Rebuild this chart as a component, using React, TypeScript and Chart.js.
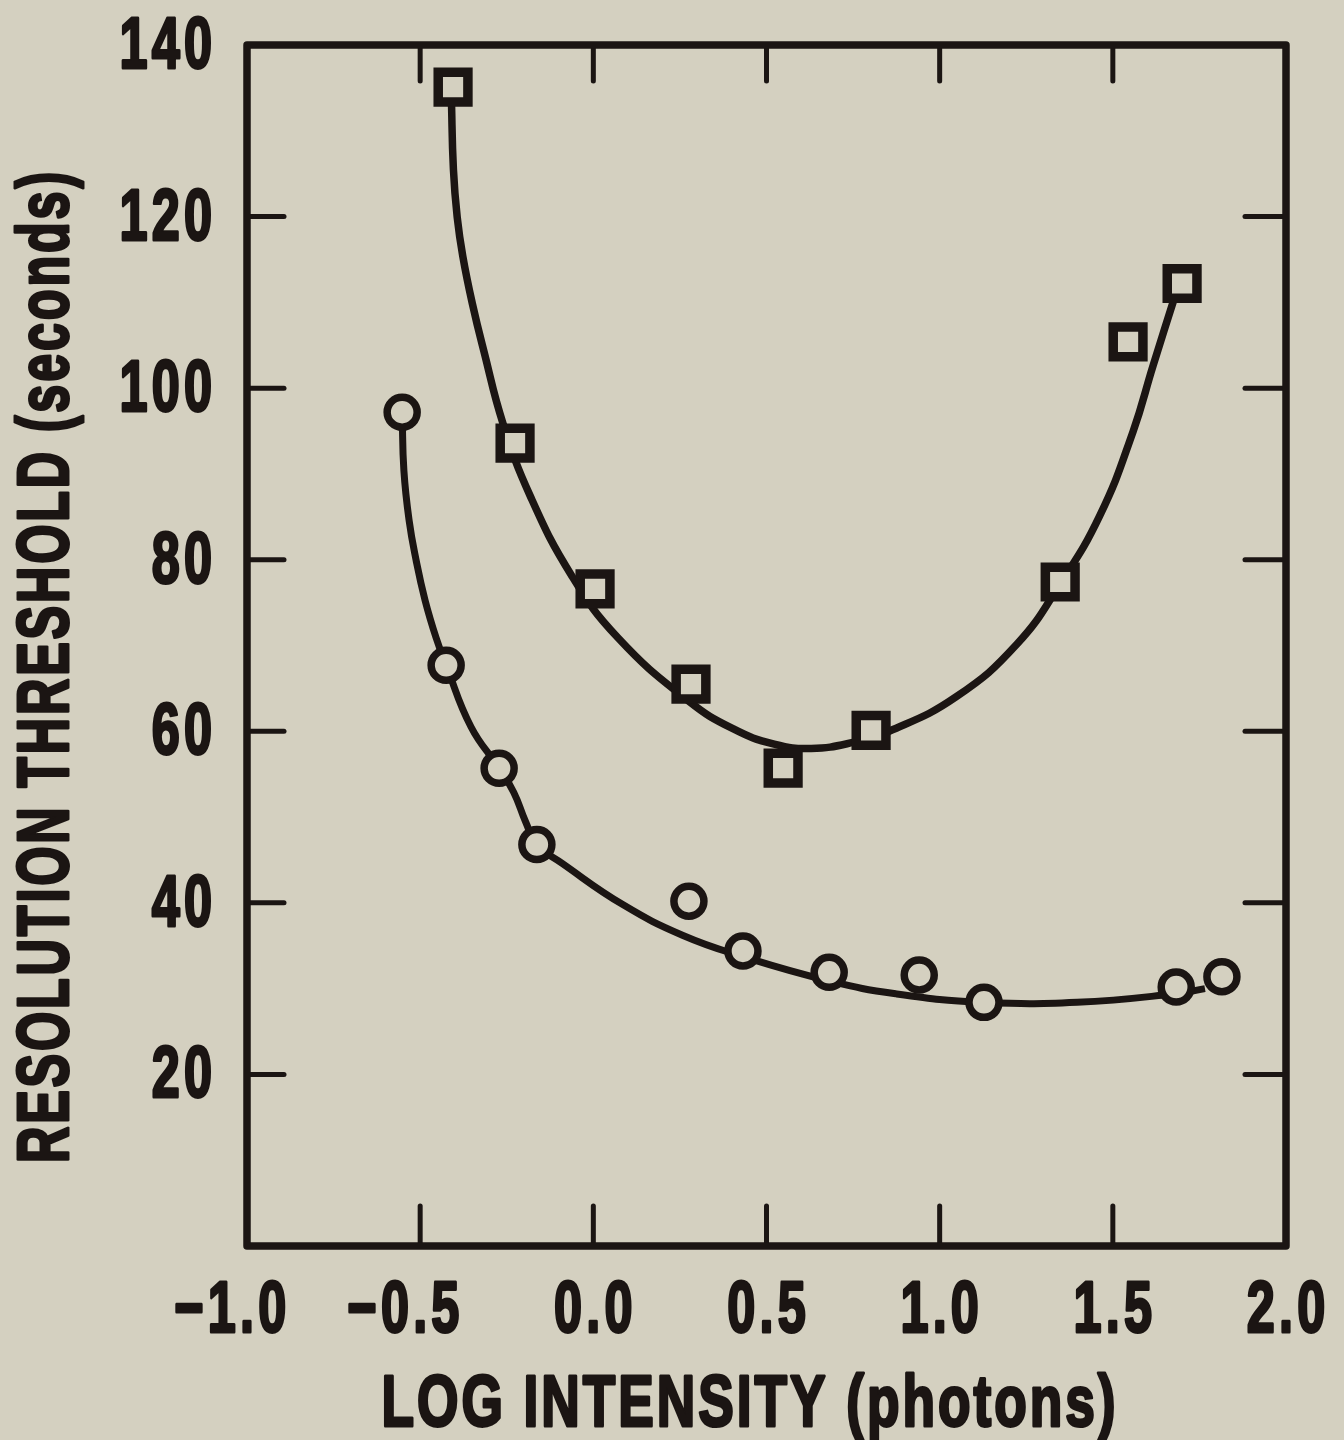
import React, { useEffect, useRef } from 'react';
import { Chart, registerables } from 'chart.js';

Chart.register(...registerables);

// Square markers (upper series)
const squareX = [-0.405, -0.226, 0.005, 0.282, 0.548, 0.802, 1.348, 1.544, 1.700];
const squareY = [135.1, 93.6, 76.6, 65.5, 55.7, 60.1, 77.4, 105.4, 112.2];

// Circle markers (lower series)
const circleX = [-0.552, -0.425, -0.272, -0.163, 0.276, 0.432, 0.681, 0.941, 1.128, 1.683, 1.815];
const circleY = [97.2, 67.7, 55.7, 46.8, 40.2, 34.4, 31.9, 31.6, 28.4, 30.2, 31.4];

// Hand-drawn fitted curves
const squareFitX = [-0.410, -0.404, -0.393, -0.377, -0.349, -0.316, -0.261, -0.183, -0.062, 0.071, 0.276, 0.403, 0.522, 0.629, 0.750, 0.854, 1.047, 1.224, 1.348, 1.463, 1.558, 1.616, 1.680];
const squareFitY = [134.0, 125.5, 119.9, 115.4, 109.8, 104.3, 95.9, 87.5, 78.1, 70.9, 63.5, 60.3, 58.5, 58.0, 58.7, 60.0, 64.0, 70.2, 77.2, 85.2, 94.9, 102.6, 110.8];

const circleFitX = [-0.552, -0.547, -0.532, -0.512, -0.486, -0.454, -0.425, -0.353, -0.272, -0.230, -0.195, -0.163, -0.090, 0.085, 0.259, 0.435, 0.681, 0.873, 1.125, 1.397, 1.680, 1.766];
const circleFitY = [97.0, 90.4, 84.6, 80.0, 75.3, 70.9, 67.7, 60.5, 55.7, 52.9, 49.4, 46.8, 44.6, 39.8, 36.2, 33.7, 30.9, 29.4, 28.4, 28.4, 29.4, 30.0];

const xTicksStep = 0.5;
const yTicksStep = 20;
const xTitle = 'LOG INTENSITY (photons)';
const yTitle = 'RESOLUTION THRESHOLD (seconds)';

const BG = '#d4d0c0';
const INK = '#1b1513';
const FONT = "'Liberation Sans', Arial, sans-serif";
const TEXT_FONT = `bold 72px ${FONT}`;

const W = 1344;
const H = 1440;
const AREA = { left: 247, top: 45, right: 1286, bottom: 1246 };

const pts = (xs: number[], ys: number[]) => xs.map((x, i) => ({ x, y: ys[i] }));

const zeroPadding = (s: any) => {
  s.paddingTop = 0;
  s.paddingBottom = 0;
  s.paddingLeft = 0;
  s.paddingRight = 0;
};

const setSpacing = (ctx: any, px: number) => {
  if ('letterSpacing' in ctx) ctx.letterSpacing = `${px}px`;
};

const textWidth = (ctx: any, text: string, sx: number, spacing: number) => {
  ctx.save();
  setSpacing(ctx, spacing);
  const w = ctx.measureText(text).width * sx;
  ctx.restore();
  return w;
};

const drawText = (
  ctx: any,
  text: string,
  x: number,
  y: number,
  align: 'left' | 'right' | 'center',
  sx: number,
  spacing: number,
  rot = 0,
) => {
  ctx.save();
  ctx.translate(x, y);
  if (rot) ctx.rotate(rot);
  ctx.scale(sx, 1);
  setSpacing(ctx, spacing);
  const w = ctx.measureText(text).width;
  let x0 = 0;
  if (align === 'right') x0 = -w;
  else if (align === 'center') x0 = -w / 2;
  ctx.textAlign = 'left';
  ctx.textBaseline = 'alphabetic';
  ctx.lineJoin = 'round';
  ctx.lineWidth = 3;
  ctx.strokeText(text, x0, 0);
  ctx.fillText(text, x0, 0);
  ctx.restore();
};

const framePlugin = {
  id: 'frame',
  beforeDraw(chart: any) {
    const { ctx, width, height } = chart;
    ctx.save();
    ctx.fillStyle = BG;
    ctx.fillRect(0, 0, width, height);
    ctx.restore();
  },
  beforeDatasetsDraw(chart: any) {
    const { ctx, chartArea: a, scales } = chart;
    const xs = scales.x;
    const ys = scales.y;
    const line = (x1: number, y1: number, x2: number, y2: number) => {
      ctx.beginPath();
      ctx.moveTo(x1, y1);
      ctx.lineTo(x2, y2);
      ctx.stroke();
    };
    ctx.save();
    ctx.strokeStyle = INK;
    ctx.lineCap = 'round';
    ctx.lineWidth = 5;
    xs.ticks.forEach((t: any) => {
      if (t.value <= xs.min + 1e-9 || t.value >= xs.max - 1e-9) return;
      const px = xs.getPixelForValue(t.value);
      line(px, a.bottom, px, a.bottom - 40);
      line(px, a.top, px, a.top + 36);
    });
    ys.ticks.forEach((t: any) => {
      if (t.value <= ys.min + 1e-9 || t.value >= ys.max - 1e-9) return;
      const py = ys.getPixelForValue(t.value);
      line(a.left, py, a.left + 37, py);
      line(a.right, py, a.right - 41, py);
    });
    ctx.lineWidth = 7.5;
    ctx.lineJoin = 'round';
    ctx.lineCap = 'butt';
    ctx.strokeRect(a.left, a.top, a.right - a.left, a.bottom - a.top);
    ctx.restore();
  },
  afterDraw(chart: any) {
    const { ctx, chartArea: a, scales } = chart;
    const xs = scales.x;
    const ys = scales.y;
    const SX = 0.7;
    const SP = 6;
    ctx.save();
    ctx.fillStyle = INK;
    ctx.strokeStyle = INK;
    ctx.font = TEXT_FONT;
    // x tick labels: numeric part centred on the tick, minus sign hanging left
    xs.ticks.forEach((t: any) => {
      const label = String(t.label ?? '');
      if (!label) return;
      const px = xs.getPixelForValue(t.value);
      const numeric = label.startsWith('\u2212') ? label.slice(1) : label;
      const w = textWidth(ctx, numeric, SX, SP) - SP * SX;
      drawText(ctx, label, px + w / 2 + SP * SX, a.bottom + 86, 'right', SX, SP);
    });
    // y tick labels
    ys.ticks.forEach((t: any) => {
      const label = String(t.label ?? '');
      if (!label) return;
      const py = ys.getPixelForValue(t.value);
      drawText(ctx, label, a.left - 35 + SP * SX, py + 23, 'right', SX, SP);
    });
    // axis titles
    drawText(ctx, xTitle, 750, a.bottom + 180, 'center', 0.74, 4);
    drawText(ctx, yTitle, 68, 666, 'center', 0.7, 4, -Math.PI / 2);
    ctx.restore();
  },
};

export default function App() {
  const ref = useRef<HTMLCanvasElement | null>(null);

  useEffect(() => {
    document.body.style.margin = '0';
    document.body.style.background = BG;
    const canvas = ref.current;
    if (!canvas) return;
    const chart = new Chart(canvas, {
      type: 'scatter',
      data: {
        datasets: [
          {
            label: 'squares',
            data: pts(squareX, squareY),
            pointStyle: 'rect',
            pointRadius: 21,
            borderWidth: 9.5,
            borderColor: INK,
            backgroundColor: BG,
            order: 1,
          },
          {
            label: 'circles',
            data: pts(circleX, circleY),
            pointStyle: 'circle',
            pointRadius: 15,
            borderWidth: 7.5,
            borderColor: INK,
            backgroundColor: BG,
            order: 1,
          },
          {
            label: 'square fit',
            data: pts(squareFitX, squareFitY),
            showLine: true,
            pointRadius: 0,
            borderWidth: 7.5,
            borderColor: INK,
            backgroundColor: INK,
            tension: 0.45,
            fill: false,
            order: 2,
          },
          {
            label: 'circle fit',
            data: pts(circleFitX, circleFitY),
            showLine: true,
            pointRadius: 0,
            borderWidth: 7,
            borderColor: INK,
            backgroundColor: INK,
            tension: 0.45,
            fill: false,
            order: 2,
          },
        ],
      },
      options: {
        responsive: false,
        animation: false,
        events: [],
        layout: { padding: { left: 0, top: AREA.top, right: W - AREA.right, bottom: 0 } },
        plugins: {
          legend: { display: false },
          tooltip: { enabled: false },
        },
        scales: {
          x: {
            type: 'linear',
            min: -1,
            max: 2,
            afterFit: (s: any) => {
              s.height = H - AREA.bottom;
              zeroPadding(s);
            },
            grid: { display: false, drawTicks: false },
            border: { display: false },
            ticks: {
              display: false,
              stepSize: xTicksStep,
              callback: (v: any) => Number(v).toFixed(1).replace('-', '\u2212'),
            },
            title: { display: false, text: xTitle },
          },
          y: {
            type: 'linear',
            min: 0,
            max: 140,
            afterFit: (s: any) => {
              s.width = AREA.left;
              zeroPadding(s);
            },
            grid: { display: false, drawTicks: false },
            border: { display: false },
            ticks: {
              display: false,
              stepSize: yTicksStep,
              callback: (v: any) => (Number(v) === 0 ? '' : String(v)),
            },
            title: { display: false, text: yTitle },
          },
        },
      },
      plugins: [framePlugin],
    } as any);
    return () => chart.destroy();
  }, []);

  return (
    <div style={{ width: W, height: H, background: BG }}>
      <canvas ref={ref} width={W} height={H} style={{ display: 'block', width: W, height: H }} />
    </div>
  );
}
